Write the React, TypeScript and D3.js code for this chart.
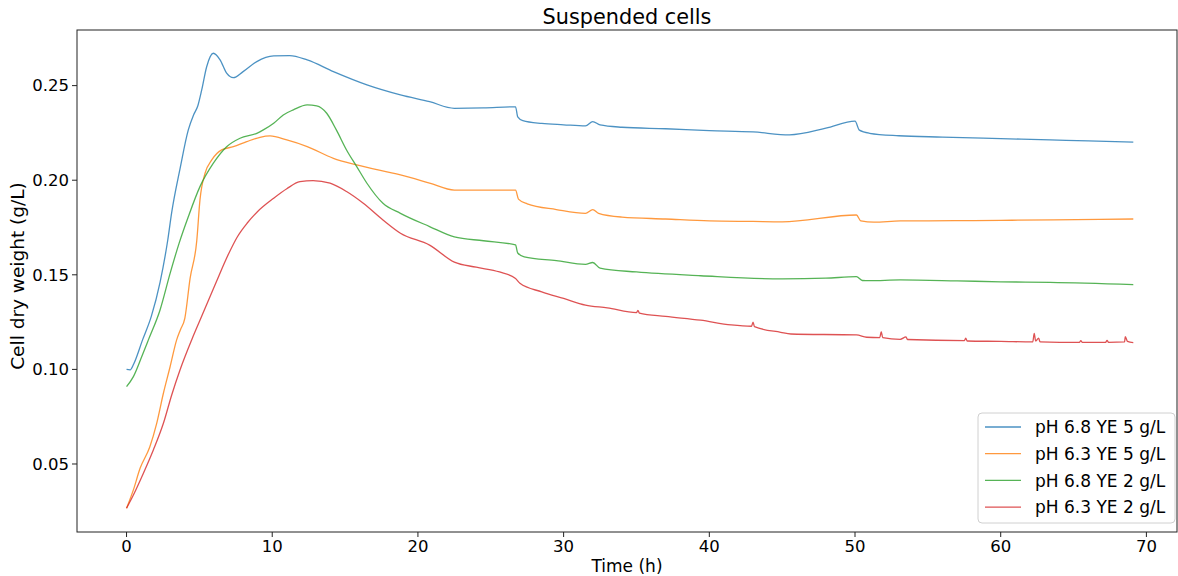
import React from "react";
import * as d3 from "d3";

type P = [number, number];

const seriesNames = ["pH 6.8 YE 5 g/L", "pH 6.3 YE 5 g/L", "pH 6.8 YE 2 g/L", "pH 6.3 YE 2 g/L"];
const seriesColors = ["#1f77b4", "#ff7f0e", "#2ca02c", "#d62728"];
const xTicks = [0, 10, 20, 30, 40, 50, 60, 70];
const yTicks = [0.05, 0.1, 0.15, 0.2, 0.25];

const blue: P[] = [
  [0, 0.1], [0.25, 0.0998], [0.5, 0.103], [1.1, 0.1156], [1.7, 0.128], [2.3, 0.146], [2.83, 0.1684],
  [3.1, 0.183], [3.67, 0.206], [4.24, 0.2266], [4.6, 0.2345], [4.9, 0.2395], [5.16, 0.2477], [5.5, 0.26], [5.96, 0.2671],
  [6.42, 0.2636], [6.87, 0.2566], [7.33, 0.2542], [8.0, 0.2574], [8.94, 0.2627], [10.1, 0.2657],
  [11.2, 0.2659], [12.4, 0.2636], [14.2, 0.2574], [16.5, 0.2504], [18.8, 0.2451], [20.8, 0.2415],
  [22.5, 0.238], [24.5, 0.2382], [26.7, 0.2388], [26.85, 0.2335], [27.2, 0.2315], [28.5, 0.23],
  [30, 0.2293], [31.5, 0.2287], [32.0, 0.231], [32.5, 0.2292], [34, 0.228], [37, 0.2272], [40, 0.2262],
  [43, 0.2255], [45.5, 0.224], [48, 0.2275], [50.0, 0.2312], [50.3, 0.2265], [51, 0.2248], [53, 0.2235],
  [56, 0.2228], [60, 0.222], [63.4, 0.2213], [66, 0.2208], [69.1, 0.2201],
];

const orange: P[] = [
  [0, 0.0266], [0.47, 0.0363], [0.93, 0.0477], [1.6, 0.0591], [2.07, 0.0715], [2.53, 0.0874],
  [2.99, 0.1014], [3.44, 0.1156], [3.7, 0.121], [4.0, 0.127], [4.36, 0.148], [4.82, 0.168], [5.04, 0.1896],
  [5.39, 0.2037], [5.85, 0.2107], [6.53, 0.216], [7.33, 0.2177], [8.25, 0.2204], [9.16, 0.2227],
  [9.85, 0.2234], [11, 0.2213], [12.4, 0.2178], [14.2, 0.2116], [15.8, 0.2081], [18.8, 0.2028],
  [20.8, 0.1985], [22.5, 0.1948], [26.7, 0.1948], [26.9, 0.19], [27.5, 0.1875], [29.5, 0.1845],
  [31.5, 0.1825], [32.0, 0.1845], [32.4, 0.1825], [34, 0.1805], [37, 0.1795], [40, 0.1785],
  [43, 0.1782], [45, 0.178], [50.1, 0.1816], [50.4, 0.1785], [51.3, 0.1778], [53.1, 0.1785],
  [57, 0.1786], [60, 0.1788], [63.6, 0.179], [69.1, 0.1795],
];

const green: P[] = [
  [0, 0.0909], [0.47, 0.0962], [1.04, 0.1067], [1.5, 0.1156], [2.3, 0.1314], [3.0, 0.151], [3.6, 0.1665],
  [4.24, 0.1807], [5.04, 0.1966], [5.96, 0.209], [6.87, 0.2177], [7.79, 0.2222], [8.94, 0.2248],
  [9.39, 0.2266], [10.1, 0.2301], [10.76, 0.2345], [11.45, 0.2372], [12.4, 0.2398], [13.05, 0.2393],
  [13.74, 0.2354], [14.4, 0.2266], [15.1, 0.216], [15.8, 0.2072], [16.5, 0.1984], [17.6, 0.1878],
  [18.8, 0.1825], [20.8, 0.1755], [22.5, 0.17], [24.5, 0.168], [26.7, 0.1658], [26.85, 0.1615],
  [27.3, 0.1595], [29.5, 0.1575], [31.5, 0.1555], [32.0, 0.1565], [32.5, 0.1535], [35, 0.1515],
  [39.4, 0.1495], [45, 0.1478], [48, 0.1482], [50.1, 0.149], [50.5, 0.147], [51, 0.1469], [53.1, 0.1473],
  [57, 0.1468], [60, 0.1463], [63.4, 0.146], [69.1, 0.1448],
];

const red: P[] = [
  [0, 0.0266], [0.47, 0.0336], [1.15, 0.045], [1.84, 0.0574], [2.53, 0.0715], [3.1, 0.0865],
  [3.67, 0.0997], [4.47, 0.1156], [5.04, 0.126], [6.07, 0.1446], [7.0, 0.161], [7.6, 0.17],
  [8.3, 0.1775], [9.0, 0.1835], [10.1, 0.1905], [11.0, 0.1955], [11.9, 0.1992], [12.8, 0.1998],
  [13.97, 0.1984], [15.1, 0.194], [16.25, 0.1878], [17.6, 0.179], [18.8, 0.172], [20.8, 0.1657],
  [22.5, 0.1567], [24, 0.154], [25.6, 0.1515], [26.7, 0.148], [27.0, 0.1455], [28.5, 0.141], [30, 0.1375],
  [31.5, 0.134], [33, 0.1325], [35, 0.13], [35.1, 0.1312], [35.2, 0.1298], [37, 0.128], [39.4, 0.126],
  [41.5, 0.1235], [42.9, 0.1228], [43.0, 0.125], [43.1, 0.1226], [44.9, 0.1196], [45.6, 0.1187],
  [50.1, 0.1182], [50.8, 0.117], [51.7, 0.1168], [51.8, 0.12], [51.9, 0.1168], [53.1, 0.1159],
  [53.5, 0.1172], [53.6, 0.1158], [57.5, 0.1152], [57.6, 0.1165], [57.7, 0.115], [60, 0.1148],
  [62.2, 0.1145], [62.3, 0.119], [62.4, 0.115], [62.6, 0.1165], [62.7, 0.1146], [65.4, 0.1143],
  [65.5, 0.1152], [65.6, 0.1143], [67.2, 0.1143], [67.3, 0.1153], [67.4, 0.1143], [68.5, 0.1145],
  [68.55, 0.1173], [68.7, 0.1148], [69.1, 0.1141],
];

const allSeries = [blue, orange, green, red];

const W = 1178;
const H = 576;
const L = 77, R = 1177, T = 30, B = 532;
const FONT = "DejaVu Sans, sans-serif";

export default function App() {
  const x = d3.scaleLinear().domain([-3.4, 72.1]).range([L, R]);
  const y = d3.scaleLinear().domain([0.01405, 0.2794]).range([B, T]);
  const line = d3.line<P>().x((d) => x(d[0])).y((d) => y(d[1])).curve(d3.curveMonotoneX);
  const fmt = d3.format(".2f");

  const legX = 978, legY = 413, legW = 197, legH = 110;

  return (
    <svg width={W} height={H} style={{ position: "absolute", left: 0, top: 0, background: "#fff" }} fontFamily={FONT}>
      <rect x={0} y={0} width={W} height={H} fill="#fff" />
      <defs>
        <clipPath id="plot">
          <rect x={L} y={T} width={R - L} height={B - T} />
        </clipPath>
      </defs>
      <g clipPath="url(#plot)">
        {allSeries.map((s, i) => (
          <path key={i} d={line(s) || ""} fill="none" stroke={seriesColors[i]} strokeWidth={1.3} strokeOpacity={0.8} strokeLinejoin="round" />
        ))}
      </g>
      <rect x={L} y={T} width={R - L} height={B - T} fill="none" stroke="#222" strokeWidth={1} />
      {xTicks.map((t) => (
        <g key={t}>
          <line x1={x(t)} x2={x(t)} y1={B} y2={B + 5} stroke="#222" strokeWidth={1} />
          <text x={x(t)} y={B + 20} fontSize={16.5} textAnchor="middle" fill="#000">{t}</text>
        </g>
      ))}
      {yTicks.map((t) => (
        <g key={t}>
          <line x1={L - 5} x2={L} y1={y(t)} y2={y(t)} stroke="#222" strokeWidth={1} />
          <text x={L - 8} y={y(t)} dy="0.35em" fontSize={16.5} textAnchor="end" fill="#000">{fmt(t)}</text>
        </g>
      ))}
      <text x={(L + R) / 2} y={24} fontSize={20.8} textAnchor="middle" fill="#000">Suspended cells</text>
      <text x={(L + R) / 2} y={572} fontSize={17} textAnchor="middle" fill="#000">Time (h)</text>
      <text transform={`translate(24,276) rotate(-90)`} fontSize={18.5} textAnchor="middle" fill="#000">Cell dry weight (g/L)</text>
      <rect x={legX} y={legY} width={legW} height={legH} rx={4} fill="#fff" fillOpacity={0.8} stroke="#d0d0d0" strokeWidth={1} />
      {seriesNames.map((n, i) => {
        const cy = legY + 14 + i * 26.7;
        return (
          <g key={n}>
            <line x1={985} x2={1021} y1={cy} y2={cy} stroke={seriesColors[i]} strokeWidth={1.3} strokeOpacity={0.8} />
            <text x={1035} y={cy} dy="0.36em" fontSize={17} fill="#000">{n}</text>
          </g>
        );
      })}
    </svg>
  );
}
